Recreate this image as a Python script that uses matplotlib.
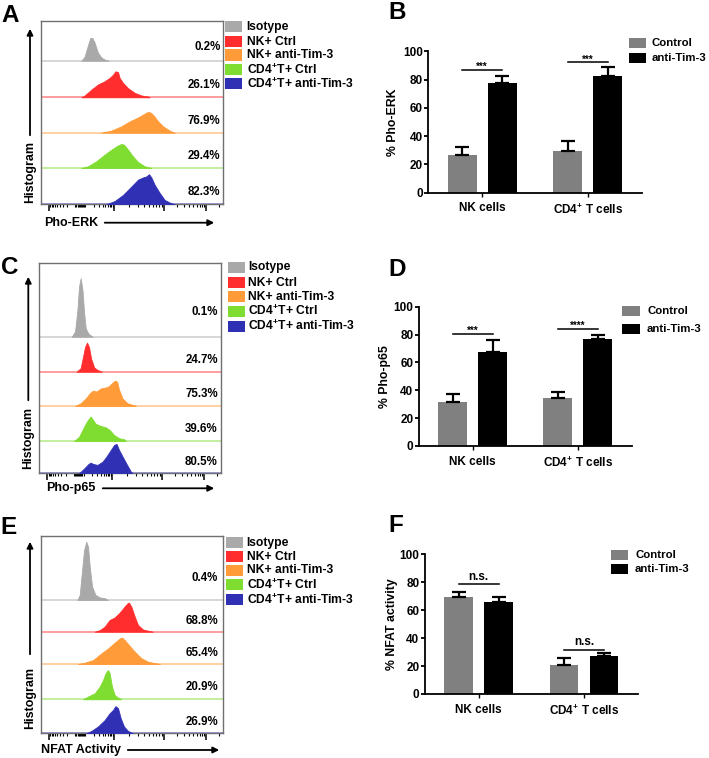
import numpy as np
import matplotlib
matplotlib.use("Agg")
import matplotlib.pyplot as plt
from matplotlib.patches import Rectangle, FancyArrowPatch

plt.rcParams["font.family"] = ["Liberation Sans", "DejaVu Sans"]
plt.rcParams["mathtext.fontset"] = "custom"
plt.rcParams["mathtext.rm"] = "Liberation Sans"
plt.rcParams["mathtext.bf"] = "Liberation Sans:bold"

W, H = 709, 758

# ---------------- DATA ----------------
HIST_LABELS = ["Isotype", "NK+ Ctrl", "NK+ anti-Tim-3",
               "CD4$^{\\mathbf{+}}$T+ Ctrl", "CD4$^{\\mathbf{+}}$T+ anti-Tim-3"]
HIST_COLORS = ["#a9a9a9", "#ff2d2d", "#ff9b38", "#7fdc30", "#3030b4"]

# panel A: Pho-ERK (x = position across the plot, h = height relative to row)
A_PCT = ["0.2%", "26.1%", "76.9%", "29.4%", "82.3%"]
A_X = [
    [.223, .241, .26, .272, .283, .296, .314, .333, .351, .373],
    [.223, .241, .278, .314, .351, .378, .397, .410, .424, .433, .452, .479, .516, .552, .589, .598],
    [.333, .388, .442, .488, .534, .561, .585, .598, .616, .644, .671, .707, .735],
    [.223, .26, .305, .351, .388, .424, .442, .457, .479, .506, .534, .570, .607],
    [.36, .406, .452, .497, .534, .561, .580, .594, .607, .625, .653, .680, .707, .735],
]
A_H = [
    [0, .1, .4, .57, .57, .45, .2, .08, .03, 0],
    [0, .05, .21, .35, .44, .53, .62, .71, .69, .53, .39, .25, .12, .05, .02, 0],
    [0, .06, .18, .32, .43, .51, .58, .58, .51, .32, .18, .06, 0],
    [0, .05, .19, .38, .52, .64, .68, .66, .52, .33, .17, .05, 0],
    [0, .09, .26, .49, .68, .74, .77, .83, .74, .54, .31, .12, .05, 0],
]

# panel C: Pho-p65
C_PCT = ["0.1%", "24.7%", "75.3%", "39.6%", "80.5%"]
C_X = [
    [.180, .198, .211, .220, .229, .239, .248, .257, .272, .294],
    [.206, .229, .242, .253, .264, .275, .286, .303, .321, .345],
    [.198, .229, .257, .279, .297, .316, .339, .367, .385, .404, .417, .429, .440, .459, .486, .523, .532],
    [.193, .220, .248, .266, .284, .297, .312, .339, .367, .389, .413, .440, .468, .477],
    [.220, .248, .272, .284, .297, .321, .349, .371, .394, .413, .426, .440, .459, .481, .505, .514],
]
C_H = [
    [0, .07, .36, .68, .79, .63, .32, .11, .04, 0],
    [0, .1, .43, .71, .83, .70, .38, .12, .05, 0],
    [0, .08, .22, .37, .45, .42, .51, .54, .58, .68, .74, .71, .47, .22, .08, .02, 0],
    [0, .12, .41, .58, .70, .60, .49, .43, .39, .31, .17, .08, .05, 0],
    [0, .15, .29, .33, .29, .26, .36, .52, .72, .88, .91, .72, .52, .29, .05, 0],
]

# panel E: NFAT activity
E_PCT = ["0.4%", "68.8%", "65.4%", "20.9%", "26.9%"]
E_X = [
    [.201, .214, .227, .238, .250, .260, .269, .282, .300, .324, .351, .369],
    [.296, .324, .351, .378, .406, .433, .457, .475, .484, .497, .516, .534, .561, .589, .616],
    [.205, .241, .287, .333, .369, .406, .433, .446, .461, .488, .516, .552, .589, .634, .653],
    [.232, .26, .296, .324, .342, .356, .369, .378, .391, .406, .424, .442],
    [.250, .278, .314, .351, .378, .397, .410, .424, .439, .457, .479, .506],
]
E_H = [
    [0, .08, .47, .78, .91, .83, .52, .21, .08, .04, .03, 0],
    [0, .05, .16, .37, .45, .60, .77, .89, .92, .79, .47, .21, .07, .03, 0],
    [0, .04, .12, .33, .48, .66, .79, .82, .74, .56, .38, .18, .07, .02, 0],
    [0, .08, .17, .36, .55, .74, .83, .74, .36, .12, .05, 0],
    [0, .07, .20, .39, .59, .69, .80, .74, .44, .20, .07, 0],
]

# bar charts
GROUPS = ["NK cells", "CD4$^{\\mathbf{+}}$ T cells"]
BAR_LEGEND = ["Control", "anti-Tim-3"]

B_CTRL = [26.6, 29.7]
B_CTRL_ERR = [5.9, 6.8]
B_ANTI = [77.3, 82.7]
B_ANTI_ERR = [5.4, 6.3]
B_SIG_Y = [86.7, 92.2]
B_SIG = ["***", "***"]

D_CTRL = [31.3, 34.2]
D_CTRL_ERR = [6.0, 4.8]
D_ANTI = [67.2, 76.6]
D_ANTI_ERR = [8.6, 3.3]
D_SIG_Y = [80.4, 84.0]
D_SIG = ["***", "****"]

F_CTRL = [69.2, 20.8]
F_CTRL_ERR = [4.1, 4.7]
F_ANTI = [66.1, 27.2]
F_ANTI_ERR = [3.1, 1.9]
F_SIG_Y = [78.5, 31.5]
F_SIG = ["n.s.", "n.s."]

# ---------------- HELPERS ----------------
fig = plt.figure(figsize=(W / 100, H / 100), dpi=100)


def fx(x):
    return x / W


def fy(y):
    return 1 - y / H


def add_ax(left, top, right, bottom):
    return fig.add_axes([fx(left), fy(bottom), (right - left) / W, (bottom - top) / H])


def arrow(x0, y0, x1, y1):
    fig.add_artist(FancyArrowPatch((fx(x0), fy(y0)), (fx(x1), fy(y1)),
                                   transform=fig.transFigure, arrowstyle="-|>",
                                   mutation_scale=9, lw=1.3, color="black"))


def panel_letter(x, y, s):
    fig.text(fx(x), fy(y), s, fontsize=17.5, fontweight="bold", ha="left", va="center")


def flow_ticks():
    major = [0.046, 0.402, 0.676, 0.907]
    minor = [0.046 + 0.144 * (1 - np.log10(k)) for k in range(2, 10)]
    minor += list(np.linspace(0.19, 0.245, 10))
    minor += [0.245 + 0.157 * np.log10(k) for k in range(2, 10)]
    minor += [0.402 + 0.274 * np.log10(k) for k in range(2, 10)]
    minor += [0.676 + 0.231 * np.log10(k) for k in range(2, 10)]
    minor += [0.907 + 0.231 * np.log10(2)]
    return major, minor


def hist_panel(box, seps, xs, hs, pcts, pct_x, leg, ylab, xlab):
    left, top, right, bottom = box
    ax = add_ax(left, top, right, bottom)
    ax.set_xlim(0, 1)
    ax.set_ylim(0, bottom - top)
    for i in range(5):
        base = bottom - seps[i + 1]
        rh = seps[i + 1] - seps[i]
        yy = [base + h * rh for h in hs[i]]
        ax.fill_between(xs[i], base, yy, color=HIST_COLORS[i], lw=0.6, zorder=3)
        ax.axhline(base, color=HIST_COLORS[i], lw=1.2, alpha=0.55, zorder=2)
        ax.text((pct_x - left) / (right - left), base + 0.34 * rh, pcts[i],
                fontsize=8.3, fontweight="bold", ha="right", va="center")
    for s in ax.spines.values():
        s.set_color("#707070")
        s.set_linewidth(1.0)
    major, minor = flow_ticks()
    ax.set_xticks(major)
    ax.set_xticks(minor, minor=True)
    ax.set_xticklabels([])
    ax.set_yticks([])
    ax.tick_params(axis="x", which="major", length=5, width=1.1, direction="out", color="black")
    ax.tick_params(axis="x", which="minor", length=2.5, width=0.8, direction="out", color="black")

    # legend
    lx0, lx1, tx, ys = leg
    for i, yc in enumerate(ys):
        fig.add_artist(Rectangle((fx(lx0), fy(yc + 5.5)), (lx1 - lx0) / W, 11 / H,
                                 transform=fig.transFigure, color=HIST_COLORS[i], lw=0))
        fig.text(fx(tx), fy(yc), HIST_LABELS[i], fontsize=8.7, fontweight="bold",
                 ha="left", va="center")

    # axis titles with arrows
    hx, hy0, hy1, hty = ylab
    arrow(hx, hy0, hx, hy1)
    fig.text(fx(hx), fy(hty), "Histogram", rotation=90, fontsize=9,
             fontweight="bold", ha="center", va="center")
    txt, tx0, ty, ax0, ax1 = xlab
    fig.text(fx(tx0), fy(ty), txt, fontsize=9, fontweight="bold", ha="left", va="center")
    arrow(ax0, ty, ax1, ty)
    return ax


def bar_panel(box, ctrl, ctrl_err, anti, anti_err, sig_y, sig, ylabel, ylab_x, leg):
    left, top, right, bottom = box
    ax = add_ax(left, top, right, bottom)
    g = np.arange(len(GROUPS))
    w, d = 0.275, 0.19
    ax.bar(g - d, ctrl, w, color="#808080", zorder=2)
    ax.bar(g + d, anti, w, color="black", zorder=2)
    ax.errorbar(g - d, ctrl, yerr=[np.zeros(2), ctrl_err], fmt="none", ecolor="black",
                elinewidth=1.6, capsize=4.8, capthick=1.6, zorder=3)
    ax.errorbar(g + d, anti, yerr=[np.zeros(2), anti_err], fmt="none", ecolor="black",
                elinewidth=1.6, capsize=4.8, capthick=1.6, zorder=3)
    for i in range(len(GROUPS)):
        ax.plot([g[i] - d, g[i] + d], [sig_y[i], sig_y[i]], color="black", lw=1.1)
        if sig[i] == "n.s.":
            ax.text(g[i], sig_y[i] + 1.2, sig[i], fontsize=8.5, fontweight="bold",
                    ha="center", va="bottom")
        else:
            ax.text(g[i], sig_y[i] - 1.5, sig[i], fontsize=7, fontweight="bold",
                    ha="center", va="bottom")
    ax.set_xlim(-0.51, 1.51)
    ax.set_ylim(0, 100)
    ax.set_yticks(range(0, 101, 20))
    ax.set_xticks(g)
    ax.set_xticklabels(GROUPS)
    for s in ["top", "right"]:
        ax.spines[s].set_visible(False)
    for s in ["left", "bottom"]:
        ax.spines[s].set_linewidth(1.3)
    ax.tick_params(axis="y", length=3, width=1.3, pad=1)
    ax.tick_params(axis="x", length=3, width=1.0, pad=4)
    for lab in ax.get_xticklabels() + ax.get_yticklabels():
        lab.set_fontweight("bold")
        lab.set_fontsize(8.5)
    fig.text(fx(ylab_x), fy((top + bottom) / 2), ylabel, rotation=90, fontsize=8.8,
             fontweight="bold", ha="center", va="center")
    lx0, lx1, tx, ys = leg
    cols = ["#808080", "black"]
    for i, yc in enumerate(ys):
        fig.add_artist(Rectangle((fx(lx0), fy(yc + 5)), (lx1 - lx0) / W, 10 / H,
                                 transform=fig.transFigure, color=cols[i], lw=0))
        fig.text(fx(tx), fy(yc), BAR_LEGEND[i], fontsize=8.2, fontweight="bold",
                 ha="left", va="center")
    return ax


# ---------------- PANELS ----------------
hist_panel((40.7, 20.7, 223, 204.3), [20.7, 60.7, 97.3, 132.7, 168, 204.3],
           A_X, A_H, A_PCT, 220.5,
           (225.3, 242, 246.7, [26.7, 41.7, 55, 69.3, 83.3]),
           (30, 138, 26, 172), ("Pho-ERK", 44.3, 222.7, 102, 217))
hist_panel((39, 262.7, 221, 473.3), [262.7, 336.7, 371.7, 406, 441, 473.3],
           C_X, C_H, C_PCT, 217.7,
           (228.3, 245, 248.3, [267.3, 282.7, 296.7, 311, 326]),
           (28.3, 403, 274, 438.3), ("Pho-p65", 45.7, 488.3, 100, 217))
hist_panel((40.7, 536, 223, 733.3), [536, 600, 631.7, 664, 699.3, 733.3],
           E_X, E_H, E_PCT, 218,
           (226, 242.7, 246.7, [542.7, 556.7, 570, 584.3, 599.3]),
           (30, 657, 539, 698), ("NFAT Activity", 40.7, 750, 125, 222))

bar_panel((428.3, 51.2, 641.5, 192.7), B_CTRL, B_CTRL_ERR, B_ANTI, B_ANTI_ERR,
          B_SIG_Y, B_SIG, "% Pho-ERK", 393, (629, 646, 651.5, [43.3, 58.3]))
bar_panel((419, 306.7, 631.5, 446), D_CTRL, D_CTRL_ERR, D_ANTI, D_ANTI_ERR,
          D_SIG_Y, D_SIG, "% Pho-p65", 385, (622, 640, 647, [311, 329]))
bar_panel((425, 554.3, 637.7, 694), F_CTRL, F_CTRL_ERR, F_ANTI, F_ANTI_ERR,
          F_SIG_Y, F_SIG, "% NFAT activity", 392, (611, 628, 635, [555, 569.3]))

panel_letter(1.5, 15, "A")
panel_letter(388, 12.5, "B")
panel_letter(1.5, 268, "C")
panel_letter(388, 269, "D")
panel_letter(0, 528, "E")
panel_letter(388, 526, "F")

fig.savefig("out.png", dpi=100)
